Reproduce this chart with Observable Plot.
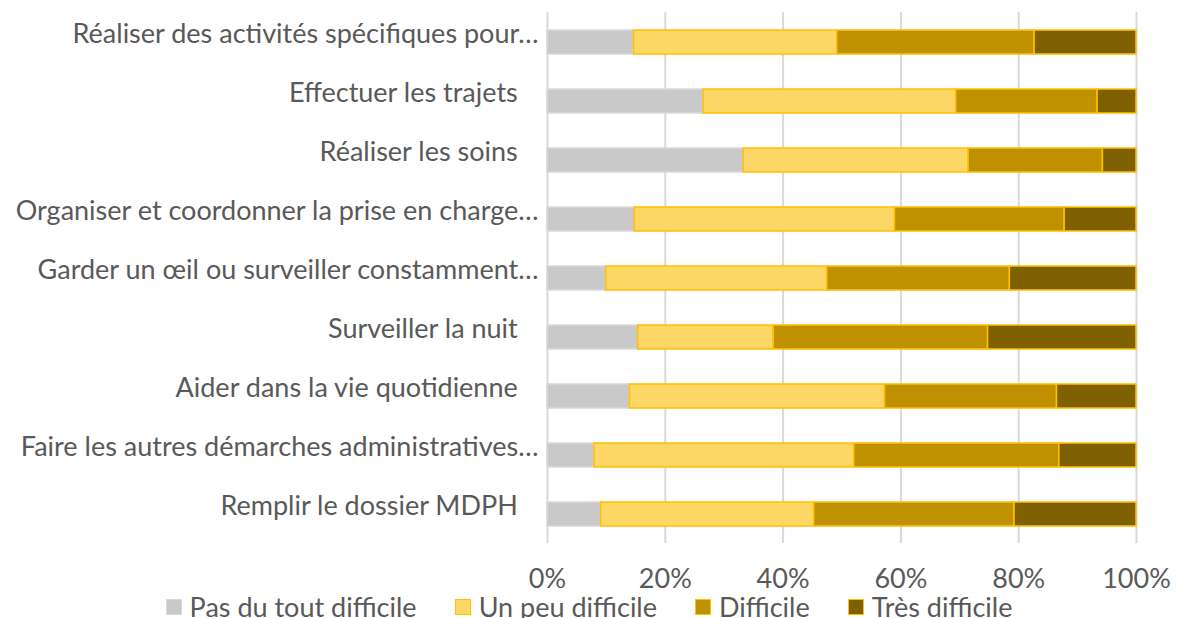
<!DOCTYPE html>
<html>
<head>
<meta charset="utf-8">
<script src="https://cdn.jsdelivr.net/npm/d3@7"></script>
<script src="https://cdn.jsdelivr.net/npm/@observablehq/plot@0.6"></script>
<style>
  html, body { margin: 0; padding: 0; background: #fff; overflow: hidden; }
  #chart { width: 1178px; }
  .legend { display: flex; justify-content: center; align-items: center; height: 22px; line-height: 22px;
            font-family: Lato, sans-serif; font-size: 27px; color: #595959; }
  .legend .item { display: flex; align-items: center; margin: 0 19px; }
  .legend .sw { width: 16px; height: 16px; margin-right: 8px; box-sizing: border-box; border: 1.5px solid; }
</style>
</head>
<body>
<div id="chart"></div>
<script>
const tasks = [
  "Réaliser des activités spécifiques pour…",
  "Effectuer les trajets",
  "Réaliser les soins",
  "Organiser et coordonner la prise en charge…",
  "Garder un œil ou surveiller constamment…",
  "Surveiller la nuit",
  "Aider dans la vie quotidienne",
  "Faire les autres démarches administratives…",
  "Remplir le dossier MDPH"
];
const levels = ["Pas du tout difficile", "Un peu difficile", "Difficile", "Très difficile"];
const pasDuTout     = [14.7, 26.5, 33.3, 14.8, 10.0, 15.4, 14.0,  8.0,  9.1];
const unPeu         = [34.5, 42.9, 38.2, 44.2, 37.5, 23.0, 43.3, 44.1, 36.2];
const difficile     = [33.5, 24.0, 22.8, 28.8, 31.0, 36.4, 29.2, 34.8, 34.0];
const tresDifficile = [17.3,  6.6,  5.7, 12.2, 21.5, 25.2, 13.5, 13.1, 20.7];
const xTicks = [0, 20, 40, 60, 80, 100];

const fills = ["#c9c9c9", "#fdd766", "#bf9000", "#7f6000"];
const strokes = ["#d9d9d9", "#ffc000", "#ffc000", "#ffc000"];

const series = [pasDuTout, unPeu, difficile, tresDifficile];
const data = [];
tasks.forEach((t, i) => {
  levels.forEach((l, j) => data.push({task: t, level: l, li: j, value: series[j][i]}));
});

const chart = Plot.plot({
  width: 1178,
  height: 596,
  marginLeft: 547,
  marginRight: 42,
  marginTop: 12,
  marginBottom: 53,
  style: {fontFamily: "Lato, sans-serif", fontSize: "27px", color: "#595959", background: "#fff"},
  x: {domain: [0, 100]},
  y: {domain: tasks, paddingInner: 0.6, paddingOuter: 0.3},
  color: {type: "identity"},
  marks: [
    Plot.ruleX(xTicks, {stroke: "#d9d9d9", strokeWidth: 2}),
    Plot.barX(data, Plot.stackX({
      x: "value",
      y: "task",
      z: "level",
      order: levels,
      fill: d => fills[d.li],
      stroke: d => strokes[d.li],
      strokeWidth: 1.5
    })),
    Plot.axisX({ticks: xTicks, tickFormat: d => d + "%", tickSize: 0, tickPadding: 25, label: null}),
    Plot.axisY({tickSize: 0, tickPadding: 9, dy: -8, label: null,
      tickFormat: d => d.endsWith("…") ? d : d + "\u00a0\u00a0\u00a0"})
  ]
});
document.getElementById("chart").appendChild(chart);

const legend = document.createElement("div");
legend.className = "legend";
levels.forEach((l, j) => {
  const item = document.createElement("div");
  item.className = "item";
  const sw = document.createElement("span");
  sw.className = "sw";
  sw.style.background = fills[j];
  sw.style.borderColor = strokes[j];
  const tx = document.createElement("span");
  tx.textContent = l;
  item.appendChild(sw);
  item.appendChild(tx);
  legend.appendChild(item);
});
document.getElementById("chart").appendChild(legend);
</script>
</body>
</html>
